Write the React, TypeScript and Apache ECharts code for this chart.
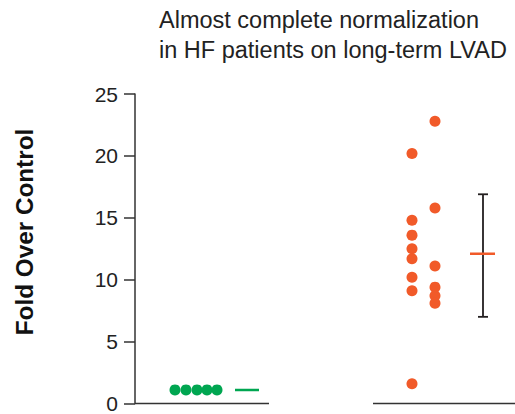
import React, { useEffect, useRef } from "react";
import * as echarts from "echarts";

// Data (x = horizontal column position in plot units, y = fold over control)
const controlX = [4.0, 5.1, 6.2, 7.2, 8.2];
const controlY = [1.1, 1.1, 1.1, 1.1, 1.1];
const lvadX = [27.7, 27.7, 27.7, 27.7, 27.7, 27.7, 27.7, 27.7, 30.0, 30.0, 30.0, 30.0, 30.0, 30.0];
const lvadY = [20.2, 14.8, 13.6, 12.5, 11.7, 10.2, 9.1, 1.6, 22.8, 15.8, 11.1, 9.4, 8.7, 8.1];
const controlMean = 1.1;
const controlMeanRange = [10.0, 12.4];
const lvadMean = 12.1;
const lvadMeanRange = [33.5, 36.0];
const lvadErrX = 34.8;
const lvadErr = [7.0, 16.9];
const baseSegments = [
  [0, 13.4],
  [23.8, 38],
];
const yTicks = [0, 5, 10, 15, 20, 25];

const GREEN = "#00a651";
const ORANGE = "#f15a29";
const DARK = "#231f20";

export default function App() {
  const ref = useRef<HTMLDivElement>(null);
  useEffect(() => {
    const chart = echarts.init(ref.current!, null, { renderer: "svg" });
    chart.setOption({
      animation: false,
      backgroundColor: "#ffffff",
      textStyle: { fontFamily: "Liberation Sans, Arial, sans-serif" },
      grid: { left: 135, right: 0, top: 94, bottom: 9, containLabel: false },
      xAxis: {
        type: "value",
        min: 0,
        max: 38,
        show: false,
      },
      yAxis: {
        type: "value",
        min: yTicks[0],
        max: yTicks[yTicks.length - 1],
        interval: 5,
        axisLine: { show: true, lineStyle: { color: "#333", width: 1.5 } },
        axisTick: { show: true, inside: false, length: 11, lineStyle: { color: "#333", width: 1.5 } },
        axisLabel: { fontSize: 21, color: "#222", margin: 17, fontFamily: "Liberation Sans, Arial, sans-serif" },
        splitLine: { show: false },
      },
      graphic: [
        {
          type: "text",
          left: 159,
          top: 5,
          style: {
            text: "Almost complete normalization\nin HF patients on long-term LVAD",
            fontSize: 23.5,
            lineHeight: 30,
            fill: "#222",
            fontFamily: "Liberation Sans, Arial, sans-serif",
          },
        },
        {
          type: "text",
          x: 24,
          y: 232,
          rotation: Math.PI / 2,
          style: {
            text: "Fold Over Control",
            fontSize: 24.3,
            fontWeight: "bold",
            fill: "#111",
            align: "center",
            verticalAlign: "middle",
            fontFamily: "Liberation Sans, Arial, sans-serif",
          },
        },
      ],
      series: [
        ...baseSegments.map((s) => ({
          type: "line",
          data: [
            [s[0], 0],
            [s[1], 0],
          ],
          symbol: "none",
          clip: false,
          lineStyle: { color: "#333", width: 1.5 },
          z: 1,
        })),
        {
          type: "scatter",
          data: controlX.map((x, i) => [x, controlY[i]]),
          symbolSize: 11,
          itemStyle: { color: GREEN, opacity: 1 },
          z: 3,
        },
        {
          type: "scatter",
          data: lvadX.map((x, i) => [x, lvadY[i]]),
          symbolSize: 11,
          itemStyle: { color: ORANGE, opacity: 1 },
          z: 3,
        },
        {
          type: "line",
          data: [
            [controlMeanRange[0], controlMean],
            [controlMeanRange[1], controlMean],
          ],
          symbol: "none",
          lineStyle: { color: GREEN, width: 2.5 },
          z: 3,
        },
        {
          type: "custom",
          data: [[lvadErrX, lvadErr[0], lvadErr[1]]],
          renderItem: (params: any, api: any) => {
            const lo = api.coord([api.value(0), api.value(1)]);
            const hi = api.coord([api.value(0), api.value(2)]);
            const w = 5;
            const st = { stroke: DARK, lineWidth: 1.8 };
            return {
              type: "group",
              children: [
                { type: "line", shape: { x1: lo[0], y1: lo[1], x2: hi[0], y2: hi[1] }, style: st },
                { type: "line", shape: { x1: lo[0] - w, y1: lo[1], x2: lo[0] + w, y2: lo[1] }, style: st },
                { type: "line", shape: { x1: hi[0] - w, y1: hi[1], x2: hi[0] + w, y2: hi[1] }, style: st },
              ],
            };
          },
          z: 2,
        },
        {
          type: "line",
          data: [
            [lvadMeanRange[0], lvadMean],
            [lvadMeanRange[1], lvadMean],
          ],
          symbol: "none",
          lineStyle: { color: ORANGE, width: 2.5 },
          z: 3,
        },
      ],
    });
    return () => chart.dispose();
  }, []);
  return <div ref={ref} style={{ width: 515, height: 414, position: "absolute", left: 0, top: 0 }} />;
}
